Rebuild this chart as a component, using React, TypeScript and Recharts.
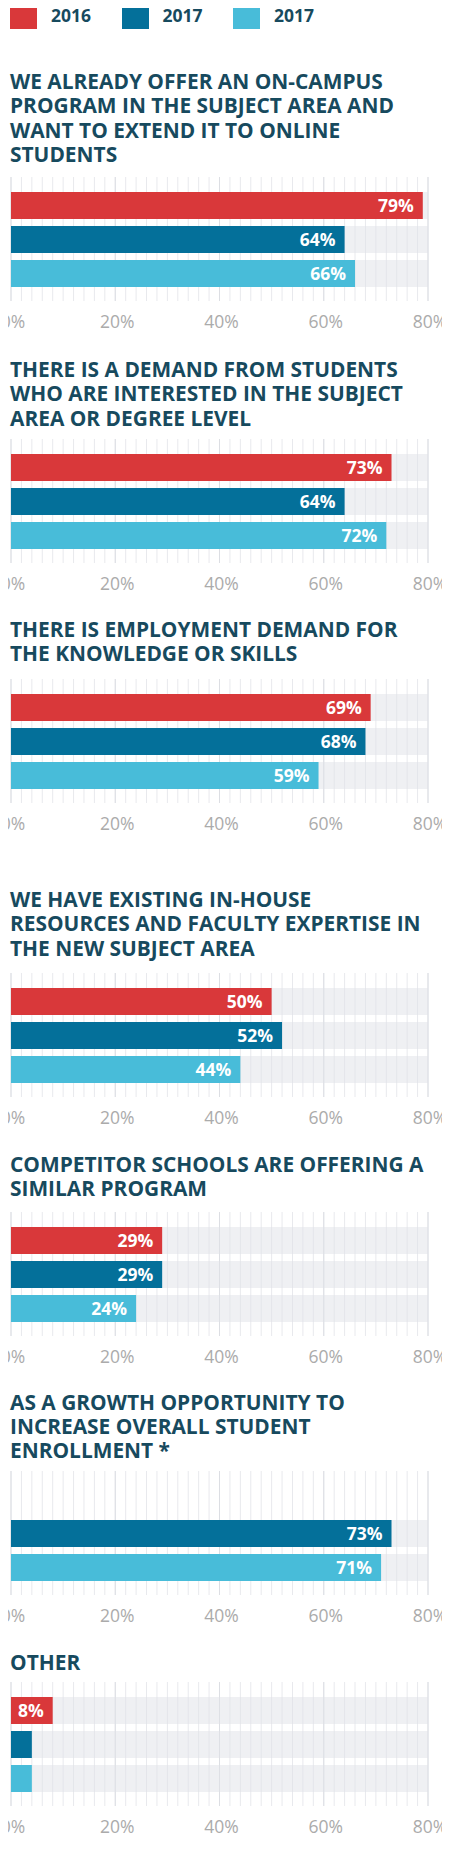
import React from 'react';
import { BarChart, Bar, XAxis, YAxis, CartesianGrid, LabelList } from 'recharts';

const seriesNames = ['2016', '2017', '2017'];
const seriesKeys = ['s2016', 's2017', 's2017b'];
const seriesColors = ['#d9383a', '#04709a', '#48bcd9'];

const categories = [
  'WE ALREADY OFFER AN ON-CAMPUS\nPROGRAM IN THE SUBJECT AREA AND\nWANT TO EXTEND IT TO ONLINE\nSTUDENTS',
  'THERE IS A DEMAND FROM STUDENTS\nWHO ARE INTERESTED IN THE SUBJECT\nAREA OR DEGREE LEVEL',
  'THERE IS EMPLOYMENT DEMAND FOR\nTHE KNOWLEDGE OR SKILLS',
  'WE HAVE EXISTING IN-HOUSE\nRESOURCES AND FACULTY EXPERTISE IN\nTHE NEW SUBJECT AREA',
  'COMPETITOR SCHOOLS ARE OFFERING A\nSIMILAR PROGRAM',
  'AS A GROWTH OPPORTUNITY TO\nINCREASE OVERALL STUDENT\nENROLLMENT *',
  'OTHER',
];

const values2016: (number | null)[] = [79, 73, 69, 50, 29, null, 8];
const values2017: (number | null)[] = [64, 64, 68, 52, 29, 73, 4];
const values2017b: (number | null)[] = [66, 72, 59, 44, 24, 71, 4];

const xTicks = [0, 20, 40, 60, 80];
const fineTicks = Array.from({ length: 41 }, (_, i) => i * 2);

// layout (px from page top): baseline of first title line, top of grid area
const panelLayout = [
  { titleBaseline: 89.3, gridTop: 177 },
  { titleBaseline: 377.3, gridTop: 439 },
  { titleBaseline: 637.3, gridTop: 679.3 },
  { titleBaseline: 907.3, gridTop: 973.3 },
  { titleBaseline: 1171.7, gridTop: 1211.7 },
  { titleBaseline: 1410, gridTop: 1470.7 },
  { titleBaseline: 1670, gridTop: 1682.3 },
];

const TITLE_COLOR = '#174a5e';
const FONT = "'Open Sans', 'Noto Sans', sans-serif";
const TITLE_SIZE = 20.9;
const LINE_H = 24.2;
const PLOT_H = 124;

const ValueLabel = (props: any) => {
  const { x, y, width, height, value } = props;
  if (value == null || width == null || width < 35) return null;
  return (
    <text
      x={x + width - 9}
      y={y + height / 2}
      dy="0.36em"
      textAnchor="end"
      fill="#ffffff"
      fontWeight={700}
      fontSize={17.5}
      fontFamily={FONT}
    >
      {value}%
    </text>
  );
};

const AxisTick = (props: any) => {
  const { x, y, payload } = props;
  return (
    <text
      x={x + 2}
      y={y}
      dy={27}
      textAnchor="middle"
      fill="#ababab"
      fontSize={17.5}
      fontFamily={FONT}
    >
      {`${payload.value}%`}
    </text>
  );
};

const Panel = ({ index }: { index: number }) => {
  const layout = panelLayout[index];
  const data = [
    {
      cat: categories[index],
      s2016: values2016[index],
      s2017: values2017[index],
      s2017b: values2017b[index],
    },
  ];
  const lines = categories[index].split('\n');
  const titleDivTop = layout.titleBaseline - 20.2;
  return (
    <>
      <div
        style={{
          position: 'absolute',
          left: 10,
          top: titleDivTop,
          fontFamily: FONT,
          fontWeight: 700,
          fontSize: TITLE_SIZE,
          lineHeight: `${LINE_H}px`,
          color: TITLE_COLOR,
          whiteSpace: 'nowrap',
        }}
      >
        {lines.map((l, i) => (
          <div key={i}>{l}</div>
        ))}
      </div>
      <div style={{ position: 'absolute', left: 0, top: layout.gridTop }}>
        <BarChart
          width={450}
          height={PLOT_H + 46}
          data={data}
          layout="vertical"
          margin={{ top: 0, right: 22, left: 11, bottom: 16 }}
          barGap={7}
          barSize={27}
        >
          <CartesianGrid
            horizontal={false}
            verticalValues={fineTicks}
            stroke="#e8e9ed"
            strokeWidth={1}
          />
          <CartesianGrid
            horizontal={false}
            verticalValues={xTicks}
            stroke="#dcdee3"
            strokeWidth={1}
          />
          <XAxis
            type="number"
            domain={[0, 80]}
            ticks={xTicks}
            axisLine={false}
            tickLine={false}
            tickSize={0}
            tickMargin={0}
            interval={0}
            height={30}
            tick={<AxisTick />}
          />
          <YAxis type="category" dataKey="cat" hide />
          {seriesKeys.map((k, i) => (
            <Bar
              key={k}
              dataKey={k}
              name={seriesNames[i]}
              fill={seriesColors[i]}
              isAnimationActive={false}
              background={{ fill: '#dfe2e8', fillOpacity: 0.5 }}
            >
              <LabelList dataKey={k} content={ValueLabel} />
            </Bar>
          ))}
        </BarChart>
      </div>
    </>
  );
};

const Legend = () => (
  <>
    {seriesNames.map((n, i) => (
      <div
        key={i}
        style={{
          position: 'absolute',
          left: 10 + i * 111.5,
          top: 1.5,
          display: 'flex',
          alignItems: 'center',
          height: 27,
        }}
      >
        <div style={{ width: 27, height: 27, background: seriesColors[i] }} />
        <div
          style={{
            marginLeft: 14,
            fontFamily: FONT,
            fontWeight: 700,
            fontSize: 17.5,
            color: TITLE_COLOR,
          }}
        >
          {n}
        </div>
      </div>
    ))}
  </>
);

export default function App() {
  return (
    <div
      style={{
        position: 'relative',
        width: 450,
        height: 1875,
        margin: -8,
        overflow: 'hidden',
        background: '#ffffff',
      }}
    >
      <Legend />
      {categories.map((_, i) => (
        <Panel key={i} index={i} />
      ))}
    </div>
  );
}
